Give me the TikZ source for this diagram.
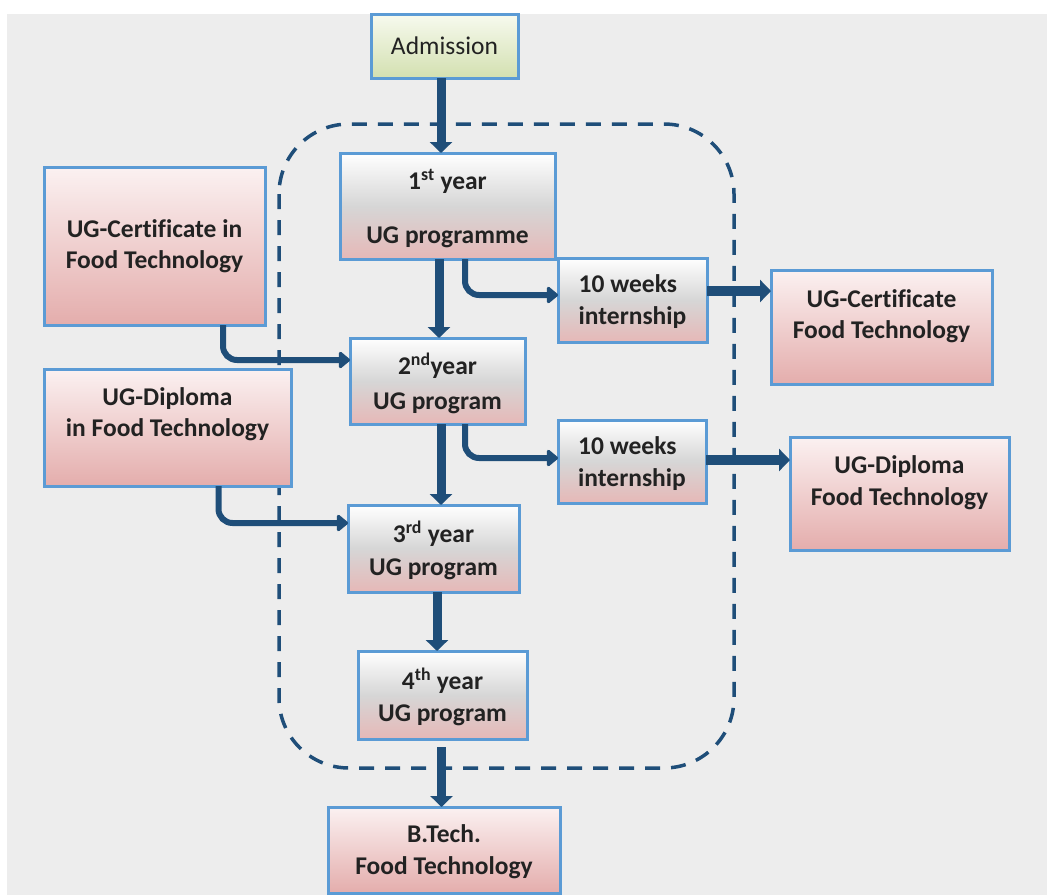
\documentclass[tikz,border=0pt]{standalone}
\usepackage{fontspec}
\setmainfont{Carlito}[Ligatures=CommonOff]
\usetikzlibrary{arrows.meta,calc}
\definecolor{bg}{HTML}{EDEDED}
\definecolor{bord}{HTML}{5B9BD5}
\definecolor{arr}{HTML}{1F4E79}
\definecolor{txt}{HTML}{222222}
\definecolor{grayM}{HTML}{D6D6D6}
\definecolor{pinkB}{HTML}{E6B8B7}
\definecolor{pinkT}{HTML}{FBF1F1}
\definecolor{pinkD}{HTML}{E4ADAC}
\definecolor{greenT}{HTML}{F7FAEF}
\definecolor{greenB}{HTML}{D3E0B0}
\begin{document}
\begin{tikzpicture}[x=1pt,y=-1pt,
  box/.style={draw=bord,line width=3pt,inner sep=0pt,outer sep=0pt,text=txt,align=center,
    font=\fontsize{25.5}{31}\selectfont\bfseries},
  graybox/.style={box,top color=white,bottom color=pinkB,middle color=grayM},
  pinkbox/.style={box,top color=pinkT,bottom color=pinkD},
  greenbox/.style={box,top color=greenT,bottom color=greenB,font=\fontsize{25.5}{31}\selectfont},
  boxtext/.style={inner sep=0pt,text=txt,align=center,font=\fontsize{25.5}{31}\selectfont\bfseries},
  lower/.style={text depth=-3pt},
  varrow/.style={draw=arr,line width=9pt,-{Triangle[width=22pt,length=11pt]}},
  harrow/.style={draw=arr,line width=10pt,-{Triangle[width=22pt,length=11pt]}},
  earrow/.style={draw=arr,line width=6pt,rounded corners=14pt,-{Triangle[width=19pt,length=12pt,round]}},
  dashbox/.style={draw=arr,line width=3.5pt,dash pattern=on 15pt off 11pt,rounded corners=70pt}
]
\useasboundingbox (0,0) rectangle (1047,895);
\fill[white] (0,0) rectangle (1047,895);
\fill[bg] (7,14) rectangle (1047,895);

% dashed frame
\draw[dashbox] (279,124) rectangle (734,768);

% nodes
\node[greenbox,minimum width=147pt,minimum height=64pt] (adm) at (444.5,46) {Admission};
\node[graybox,lower,minimum width=215pt,minimum height=106pt] (y1) at (447.5,206) {1\textsuperscript{st} year\\[23pt]UG programme};
\node[pinkbox,minimum width=221pt,minimum height=158pt] (ci) at (154.5,246) {UG-Certificate in\\Food Technology};
\node[graybox,lower,minimum width=175pt,minimum height=86pt] (y2) at (437.5,381) {2\textsuperscript{nd}year\\[4pt]UG program};
\node[pinkbox,minimum width=247pt,minimum height=117pt] (di) at (167.5,427.5) {};
\node[boxtext] (di-t) at ($(di)+(0,-13)$) {UG-Diploma\\in Food Technology};
\node[graybox,lower,minimum width=171pt,minimum height=87pt] (y3) at (433.5,548.5) {3\textsuperscript{rd} year\\[2pt]UG program};
\node[graybox,lower,minimum width=169pt,minimum height=88pt] (y4) at (442.5,695) {4\textsuperscript{th} year\\[1pt]UG program};
\node[pinkbox,lower,minimum width=232pt,minimum height=86pt] (bt) at (444,850) {B.Tech.\\[1pt]Food Technology};
\node[graybox,lower,minimum width=149pt,minimum height=84pt,align=left] (i1) at (632.5,300) {10 weeks\\[1pt]internship};
\node[graybox,lower,minimum width=148pt,minimum height=83pt,align=left] (i2) at (632,461.5) {10 weeks\\[1pt]internship};
\node[pinkbox,minimum width=221pt,minimum height=114pt] (co) at (881.5,327) {};
\node[boxtext] (co-t) at ($(co)+(0,-11)$) {UG-Certificate\\Food Technology};
\node[pinkbox,minimum width=219pt,minimum height=113pt] (do) at (899.5,493.5) {};
\node[boxtext] (do-t) at ($(do)+(0,-11)$) {UG-Diploma\\[1pt]Food Technology};

% vertical arrows
\draw[varrow] ($(adm.south)+(-3.5,0)$) -- ($(y1.north)+(-6.5,0)$);
\draw[varrow] ($(y1.south)+(-8.5,0)$) -- ($(y2.north)+(1.5,0)$);
\draw[varrow] ($(y2.south)+(3.5,0)$) -- ($(y3.north)+(7.5,0)$);
\draw[varrow] ($(y3.south)+(3.5,0)$) -- ($(y4.north)+(-5.5,0)$);
\draw[varrow] ($(y4.south)+(-1,8)$) -- ($(bt.north)+(-2.5,0)$);

% elbow arrows
\draw[earrow] ($(y1.south)+(17.5,0)$) |- ($(i1.west)+(0,-5)$);
\draw[earrow] ($(y2.south)+(27.5,0)$) |- ($(i2.west)+(0,-3.5)$);
\draw[earrow] ($(ci.south)+(68.5,0)$) |- ($(y2.west)+(0,-21)$);
\draw[earrow] ($(di.south)+(51,0)$) |- ($(y3.west)+(0,-25.5)$);

% horizontal arrows
\draw[harrow] ($(i1.east)+(0,-9)$) -- (co.west |- {$(i1.east)+(0,-9)$});
\draw[harrow] ($(i2.east)+(0,-1.5)$) -- (do.west |- {$(i2.east)+(0,-1.5)$});
\end{tikzpicture}
\end{document}
